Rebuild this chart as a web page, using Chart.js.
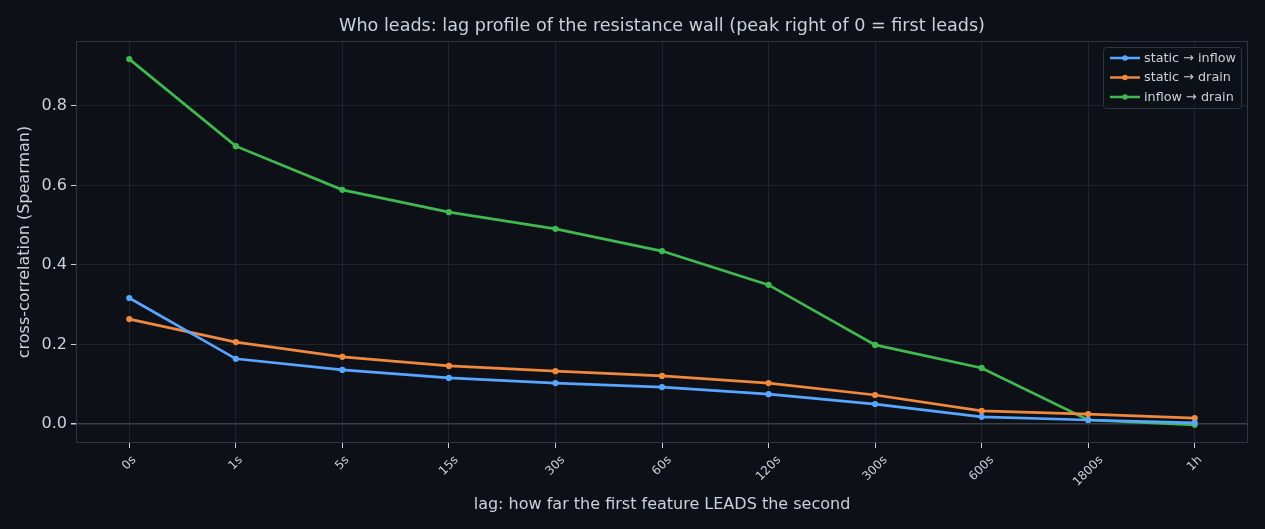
<!DOCTYPE html>
<html>
<head>
<meta charset="utf-8">
<script src="https://cdn.jsdelivr.net/npm/chart.js@4/dist/chart.umd.min.js"></script>
<style>
html,body{margin:0;padding:0;background:#0d1117;}
#wrap{width:1265px;height:529px;}
</style>
</head>
<body>
<div id="wrap"><canvas id="c" width="1265" height="529"></canvas></div>
<script>
const categories = ['0s','1s','5s','15s','30s','60s','120s','300s','600s','1800s','1h'];
const staticInflow = [0.317,0.164,0.136,0.116,0.103,0.093,0.075,0.050,0.018,0.010,0.003];
const staticDrain  = [0.264,0.206,0.169,0.146,0.133,0.121,0.103,0.073,0.033,0.025,0.015];
const inflowDrain  = [0.918,0.699,0.589,0.533,0.491,0.435,0.350,0.199,0.141,0.010,-0.002];
const yTicks = [0.0,0.2,0.4,0.6,0.8];

const titleText = 'Who leads: lag profile of the resistance wall (peak right of 0 = first leads)';
const FONT = '"DejaVu Sans", sans-serif';
const TEXT = '#c9d1d9';
const GRID = '#1f242c';
const FRAME = '#30363d';

const decor = {
  id: 'decor',
  afterDraw(chart) {
    const ctx = chart.ctx, a = chart.chartArea;
    ctx.save();
    // frame
    ctx.strokeStyle = FRAME; ctx.lineWidth = 1;
    ctx.strokeRect(a.left + 0.5, a.top + 0.5, a.right - a.left - 1, a.bottom - a.top - 1);
    // title
    ctx.fillStyle = TEXT;
    ctx.font = '17.6px ' + FONT;
    ctx.textAlign = 'center'; ctx.textBaseline = 'middle';
    ctx.fillText(titleText, (a.left + a.right) / 2, 26);
    // x tick labels, rotated 45, centred on tick
    const xs = chart.scales.x;
    ctx.font = '12px ' + FONT;
    const r = Math.PI / 4;
    categories.forEach((lab, i) => {
      const x = xs.getPixelForValue(i);
      const w = ctx.measureText(lab).width, h = 12;
      const bb = (w + h) / Math.SQRT2;
      const cy = a.bottom + 11 + bb / 2;
      ctx.save();
      ctx.translate(x, cy);
      ctx.rotate(-r);
      ctx.textAlign = 'center'; ctx.textBaseline = 'middle';
      ctx.fillText(lab, 0, 0);
      ctx.restore();
    });
    // legend
    const lx = 1103, ly = 47, lw = 138, lh = 61;
    ctx.fillStyle = 'rgba(13,17,23,0.85)';
    ctx.strokeStyle = '#30363d';
    ctx.beginPath();
    if (ctx.roundRect) ctx.roundRect(lx + 0.5, ly + 0.5, lw, lh, 3); else ctx.rect(lx + 0.5, ly + 0.5, lw, lh);
    ctx.fill(); ctx.stroke();
    ctx.font = '12.8px ' + FONT;
    ctx.textAlign = 'left'; ctx.textBaseline = 'middle';
    chart.data.datasets.forEach((ds, i) => {
      const yy = ly + 11 + i * 19.5;
      ctx.strokeStyle = ds.borderColor; ctx.lineWidth = 2.5;
      ctx.beginPath(); ctx.moveTo(lx + 7, yy); ctx.lineTo(lx + 37, yy); ctx.stroke();
      ctx.fillStyle = ds.borderColor;
      ctx.beginPath(); ctx.arc(lx + 22, yy, 2.8, 0, Math.PI * 2); ctx.fill();
      ctx.fillStyle = TEXT;
      ctx.fillText(ds.label, lx + 41, yy + 0.5);
    });
    ctx.restore();
  }
};

function mk(label, data, color) {
  return {label, data, borderColor: color, backgroundColor: color, borderWidth: 2.7,
    pointRadius: 3.1, pointHoverRadius: 3.1, pointBorderWidth: 0, tension: 0, fill: false};
}

new Chart(document.getElementById('c'), {
  type: 'line',
  data: {
    labels: categories,
    datasets: [
      mk('static → inflow', staticInflow, '#58a6ff'),
      mk('static → drain', staticDrain, '#f0883e'),
      mk('inflow → drain', inflowDrain, '#3fb950')
    ]
  },
  options: {
    responsive: false, animation: false, devicePixelRatio: 1,
    layout: {padding: {top: 41, right: 17, left: 0, bottom: 0}},
    plugins: {legend: {display: false}, title: {display: false}, tooltip: {enabled: false}},
    scales: {
      x: {
        type: 'category', offset: true,
        grid: {offset: false, color: GRID, tickColor: TEXT, tickLength: 5, lineWidth: 1},
        border: {display: false},
        ticks: {display: false},
        title: {display: true, text: 'lag: how far the first feature LEADS the second', color: TEXT,
          font: {family: FONT, size: 16}, padding: {top: 0, bottom: 15}},
        afterFit(s) { s.height = 86; }
      },
      y: {
        min: -0.0478, max: 0.9635,
        afterBuildTicks(s) { s.ticks = yTicks.map(v => ({value: v})); },
        grid: {
          color: c => (c.tick && c.tick.value === 0) ? '#3a4048' : GRID,
          lineWidth: c => (c.tick && c.tick.value === 0) ? 1.5 : 1,
          tickColor: TEXT, tickLength: 5
        },
        border: {display: false},
        ticks: {color: TEXT, font: {family: FONT, size: 16}, padding: 4,
          callback: v => Number(v).toFixed(1)},
        title: {display: true, text: 'cross-correlation (Spearman)', color: TEXT,
          font: {family: FONT, size: 16}, padding: {top: 15, bottom: 0}},
        afterFit(s) { s.width = 76; }
      }
    }
  },
  plugins: [decor]
});
</script>
</body>
</html>
